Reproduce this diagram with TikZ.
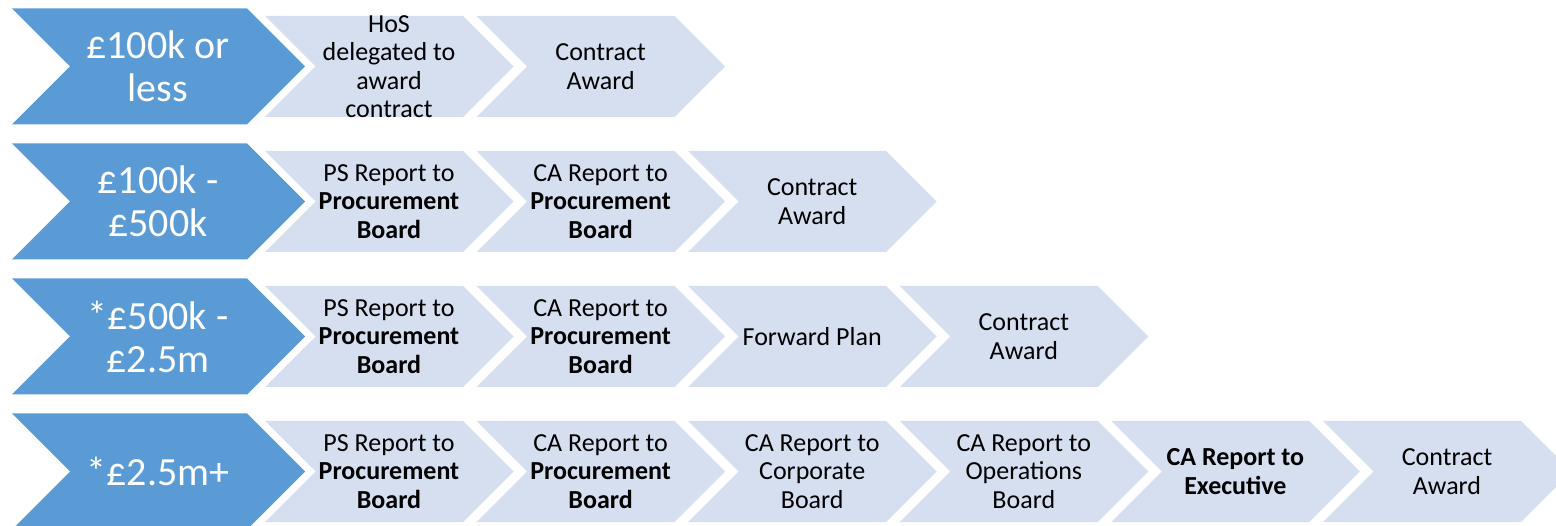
\documentclass[tikz,border=0pt]{standalone}
\usepackage{fontspec}
\setmainfont{Carlito}
\usetikzlibrary{calc}
\definecolor{bandblue}{HTML}{5B9BD5}
\definecolor{steplight}{RGB}{213,223,240}
\tikzset{
  band/.style={fill=bandblue},
  bandtext/.style={text=white, align=center, inner sep=0, font=\fontsize{40}{43}\selectfont},
  stepbox/.style={fill=steplight},
  steptext/.style={text=black, align=center, inner sep=0, font=\fontsize{26}{28.5}\selectfont},
}

\begin{document}
\begin{tikzpicture}[x=1pt,y=-1pt]
\useasboundingbox (0,0) rectangle (1556,526);
\clip (0,0) rectangle (1556,526);

% value bands
\foreach \r/\t in {1/{£100k or\\less}, 2/{£100k -\\£500k}, 3/{*£500k -\\£2.5m}, 4/{*£2.5m+}} {
  \pgfmathsetmacro\cy{66.5+135*(\r-1)}
  \fill[band] (12,\cy-58) -- (247,\cy-58) -- (305,\cy) -- (247,\cy+58) -- (12,\cy+58) -- (70,\cy) -- cycle;
  \node[bandtext] (band\r) at (158,\cy) {\t};
}

% approval steps
\foreach \r/\c/\t in {
  1/1/{HoS\\delegated to\\award\\contract},
  1/2/{Contract\\Award},
  2/1/{PS Report to\\\textbf{Procurement}\\\textbf{Board}},
  2/2/{CA Report to\\\textbf{Procurement}\\\textbf{Board}},
  2/3/{Contract\\Award},
  3/1/{PS Report to\\\textbf{Procurement}\\\textbf{Board}},
  3/2/{CA Report to\\\textbf{Procurement}\\\textbf{Board}},
  3/3/{Forward Plan},
  3/4/{Contract\\Award},
  4/1/{PS Report to\\\textbf{Procurement}\\\textbf{Board}},
  4/2/{CA Report to\\\textbf{Procurement}\\\textbf{Board}},
  4/3/{CA Report to\\Corporate\\Board},
  4/4/{CA Report to\\Operations\\Board},
  4/5/{\textbf{CA Report to}\\\textbf{Executive}},
  4/6/{Contract\\Award}} {
  \pgfmathsetmacro\cy{66.5+135*(\r-1)}
  \pgfmathsetmacro\lx{265+211.6*(\c-1)}
  \fill[stepbox] (\lx,\cy-50.5) -- (\lx+198,\cy-50.5) -- (\lx+248.5,\cy) -- (\lx+198,\cy+50.5) -- (\lx,\cy+50.5) -- (\lx+50.5,\cy) -- cycle;
  \node[steptext] (step\r-\c) at (\lx+124,\cy) {\t};
}
\end{tikzpicture}
\end{document}
